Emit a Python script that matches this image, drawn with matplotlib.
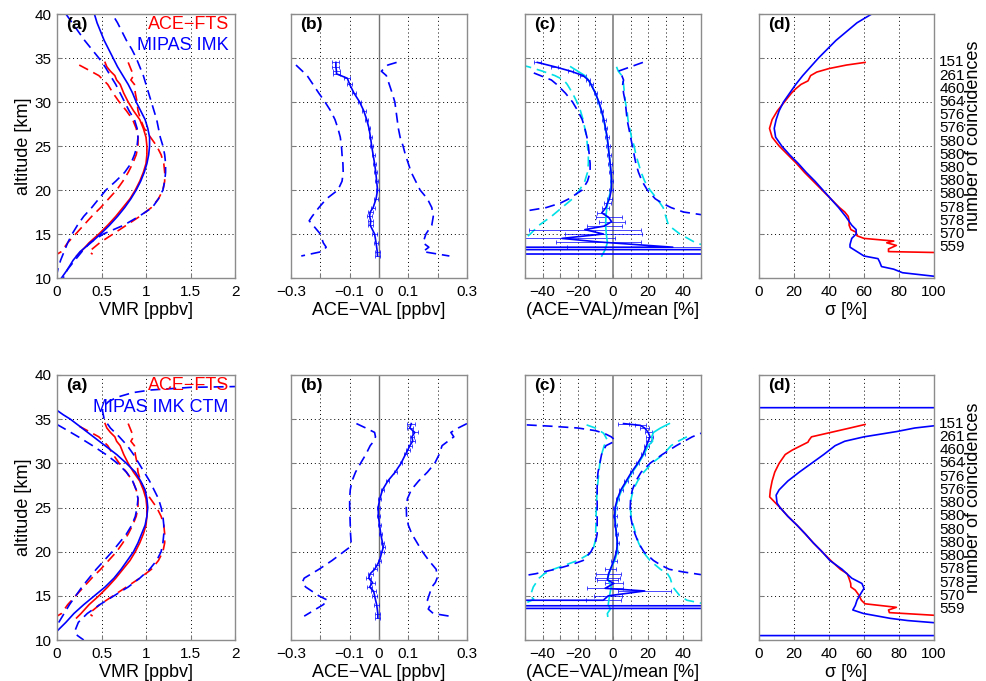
import matplotlib.pyplot as plt

plt.rcParams['font.family'] = ['Liberation Sans', 'DejaVu Sans']

# ---------------- panel (a): VMR profiles [ppbv] ----------------
# ACE-FTS mean and mean -/+ std (same in both rows)
ace_alt = [34.5, 34.0, 33.5, 33.0, 32.5, 32.0, 31.0, 30.0, 29.0, 28.0, 27.0, 26.0, 25.0,
           24.0, 23.0, 22.0, 21.0, 20.0, 19.0, 18.0, 17.0, 16.0, 15.0, 14.0, 13.0, 12.5]
ace_vmr = [0.54, 0.56, 0.60, 0.65, 0.67, 0.71, 0.75, 0.80, 0.86, 0.93, 0.97, 1.00, 1.01,
           1.01, 1.00, 0.97, 0.93, 0.88, 0.82, 0.74, 0.66, 0.57, 0.47, 0.36, 0.27, 0.22]
ace_lo_alt = [34.2, 33.5, 33.0, 32.0, 31.0, 30.0, 29.0, 28.0, 27.0, 26.0, 25.0, 24.0,
              23.0, 22.0, 21.0, 20.0, 19.0, 18.0, 17.0, 16.0, 15.0, 14.0, 13.0, 12.7]
ace_lo_vmr = [0.25, 0.38, 0.47, 0.57, 0.63, 0.70, 0.78, 0.85, 0.89, 0.91, 0.91, 0.89,
              0.85, 0.80, 0.74, 0.67, 0.58, 0.49, 0.39, 0.30, 0.21, 0.12, 0.05, 0.0]
ace_hi_alt = [34.5, 34.0, 33.0, 32.5, 32.0, 31.0, 30.0, 29.0, 28.0, 27.0, 26.0, 25.0, 24.0,
              23.0, 22.0, 21.0, 20.0, 19.0, 18.0, 17.0, 16.0, 15.0, 14.0, 13.5, 13.0, 12.7]
ace_hi_vmr = [0.80, 0.82, 0.86, 0.83, 0.87, 0.88, 0.90, 0.91, 0.94, 0.98, 1.05, 1.12, 1.17,
              1.20, 1.21, 1.21, 1.19, 1.14, 1.06, 0.93, 0.78, 0.63, 0.48, 0.42, 0.36, 0.40]

# MIPAS IMK (top row)
imk_alt = [40, 39, 38, 37, 36, 35, 34, 33, 32, 31, 30, 29, 28, 27, 26, 25,
           24, 23, 22, 21, 20, 19, 18, 17, 16, 15, 14, 13, 12, 11, 10]
imk_vmr = [0.42, 0.45, 0.49, 0.53, 0.58, 0.63, 0.68, 0.74, 0.80, 0.85, 0.89, 0.94, 0.99,
           1.02, 1.04, 1.04, 1.03, 1.01, 0.98, 0.94, 0.89, 0.83, 0.76, 0.68, 0.59, 0.49,
           0.38, 0.26, 0.18, 0.12, 0.05]
imk_lo_alt = [40, 39, 38, 37, 36, 35, 34, 33, 32, 31, 30, 29, 28, 27, 26, 25,
              24, 23, 22, 21, 20, 19, 18, 17, 16, 15, 14, 13, 12, 11, 10.5]
imk_lo_vmr = [0.10, 0.17, 0.24, 0.31, 0.39, 0.47, 0.54, 0.60, 0.66, 0.71, 0.76, 0.81, 0.87,
              0.90, 0.91, 0.90, 0.87, 0.83, 0.76, 0.66, 0.55, 0.47, 0.39, 0.30, 0.23, 0.17,
              0.12, 0.08, 0.04, 0.01, 0.0]
imk_hi_alt = [39.5, 39, 38, 37, 36, 35, 34, 33, 32, 31, 30, 29, 28, 27, 26, 25,
              24, 23, 22, 21, 20, 19, 18, 17, 16, 15, 14, 13, 12, 11, 10]
imk_hi_vmr = [0.65, 0.68, 0.73, 0.78, 0.84, 0.89, 0.93, 0.97, 1.00, 1.03, 1.06, 1.09, 1.12,
              1.14, 1.16, 1.19, 1.21, 1.22, 1.22, 1.21, 1.19, 1.14, 1.07, 0.92, 0.75, 0.52,
              0.37, 0.28, 0.20, 0.12, 0.07]

# MIPAS IMK CTM (bottom row)
ctm_alt = [36.0, 35.5, 35.0, 34.0, 33.0, 32.0, 31.0, 30.0, 29.0, 28.0, 27.0, 26.0, 25.0,
           24.0, 23.0, 22.0, 21.0, 20.0, 19.0, 18.0, 17.0, 16.0, 15.0, 14.0, 13.0, 12.0, 11.0]
ctm_vmr = [0.0, 0.07, 0.15, 0.28, 0.41, 0.54, 0.67, 0.78, 0.88, 0.94, 0.99, 1.01, 1.02,
           1.01, 0.99, 0.95, 0.91, 0.86, 0.79, 0.72, 0.64, 0.54, 0.42, 0.30, 0.19, 0.10, 0.0]
ctm_lo_alt = [34.4, 34.0, 33.0, 32.0, 31.0, 30.0, 29.0, 28.0, 27.0, 26.0, 25.0, 24.0, 23.0,
              22.0, 21.0, 20.0, 19.0, 18.0, 17.0, 16.0, 15.0, 14.0, 13.0, 12.0, 11.5]
ctm_lo_vmr = [0.0, 0.07, 0.24, 0.40, 0.55, 0.68, 0.78, 0.85, 0.89, 0.91, 0.90, 0.88, 0.84,
              0.78, 0.70, 0.62, 0.53, 0.44, 0.36, 0.28, 0.21, 0.14, 0.08, 0.02, 0.0]
ctm_hi_alt = [38.7, 38.6, 38.3, 38.0, 37.5, 37.0, 36.5, 36.0, 35.0, 34.0, 33.0, 32.0, 31.0,
              30.0, 29.0, 28.0, 27.0, 26.0, 25.0, 24.0, 23.0, 22.0, 21.0, 20.0, 19.0, 18.0,
              17.0, 16.0, 15.0, 14.0, 13.0, 12.0, 11.0, 10.5, 10.0]
ctm_hi_vmr = [2.05, 1.50, 1.05, 0.85, 0.68, 0.58, 0.53, 0.51, 0.53, 0.60, 0.70, 0.79, 0.86,
              0.92, 0.98, 1.04, 1.09, 1.14, 1.17, 1.19, 1.20, 1.20, 1.19, 1.17, 1.12, 1.04,
              0.93, 0.80, 0.64, 0.48, 0.34, 0.24, 0.20, 0.23, 0.30]

# ---------------- panel (b): ACE-VAL [ppbv] ----------------
b1_alt = [34.5, 34.0, 33.5, 33.2, 32.7, 32.0, 31.0, 30.0, 29.0, 28.0, 27.0, 26.0, 25.0, 24.0,
          23.0, 22.0, 21.0, 20.0, 19.0, 18.0, 17.5, 17.0, 16.5, 16.0, 15.0, 14.0, 13.0, 12.5]
b1_bias = [-0.147, -0.147, -0.145, -0.145, -0.108, -0.100, -0.085, -0.066, -0.052, -0.042,
           -0.034, -0.029, -0.025, -0.020, -0.015, -0.011, -0.008, -0.005, -0.010, -0.020,
           -0.030, -0.032, -0.028, -0.030, -0.015, -0.010, -0.006, -0.005]
b1_err = [0.012, 0.012, 0.012, 0.012, 0.010, 0.008, 0.007, 0.006, 0.006, 0.005, 0.005, 0.005,
          0.005, 0.005, 0.005, 0.005, 0.005, 0.006, 0.006, 0.007, 0.008, 0.008, 0.008, 0.008,
          0.008, 0.008, 0.008, 0.009]
b1_lo_alt = [34.2, 33.0, 32.0, 31.0, 30.0, 29.0, 28.0, 27.0, 26.0, 25.0, 24.0, 23.0, 22.0,
             21.0, 20.0, 19.0, 18.0, 17.0, 16.5, 16.0, 15.0, 14.0, 13.5, 13.0, 12.5]
b1_lo = [-0.283, -0.245, -0.225, -0.205, -0.184, -0.165, -0.150, -0.140, -0.132, -0.128,
         -0.126, -0.123, -0.122, -0.126, -0.140, -0.179, -0.205, -0.228, -0.238, -0.225,
         -0.200, -0.190, -0.180, -0.195, -0.265]
b1_hi_alt = [34.5, 34.2, 33.5, 33.0, 32.0, 31.0, 30.0, 29.0, 28.0, 27.0, 26.0, 25.0, 24.0,
             23.0, 22.0, 21.0, 20.0, 19.0, 18.0, 17.0, 16.0, 15.0, 14.0, 13.5, 13.0, 12.5]
b1_hi = [0.060, 0.030, 0.008, 0.025, 0.035, 0.045, 0.054, 0.058, 0.062, 0.066, 0.072, 0.082,
         0.090, 0.100, 0.110, 0.125, 0.140, 0.165, 0.180, 0.185, 0.180, 0.160, 0.150, 0.170,
         0.150, 0.240]

b2_alt = [34.5, 34.0, 33.5, 33.0, 32.5, 32.0, 31.5, 31.0, 30.0, 29.0, 28.0, 27.0, 26.0, 25.0,
          24.0, 23.0, 22.0, 21.0, 20.5, 20.0, 19.0, 18.5, 18.0, 17.5, 17.0, 16.5, 16.0, 15.5,
          15.0, 14.0, 13.0, 12.5]
b2_bias = [0.110, 0.105, 0.122, 0.112, 0.115, 0.105, 0.098, 0.090, 0.075, 0.055, 0.030, 0.012,
           0.003, -0.003, -0.002, 0.002, 0.006, 0.012, 0.015, 0.010, 0.002, -0.006, -0.015,
           -0.030, -0.035, -0.022, -0.032, -0.018, -0.015, -0.008, -0.004, -0.004]
b2_err = [0.014, 0.010, 0.010, 0.008, 0.008, 0.007, 0.007, 0.006, 0.005, 0.005, 0.005, 0.005,
          0.005, 0.005, 0.005, 0.005, 0.005, 0.005, 0.005, 0.006, 0.006, 0.007, 0.007, 0.008,
          0.008, 0.008, 0.008, 0.008, 0.008, 0.008, 0.008, 0.009]
b2_lo_alt = [34.5, 34.0, 33.5, 33.0, 32.5, 32.0, 31.0, 30.0, 29.0, 28.0, 27.0, 26.0, 25.0, 24.0,
             23.0, 22.0, 21.0, 20.5, 20.0, 19.0, 18.0, 17.0, 16.5, 16.0, 15.0, 14.5, 14.0,
             13.5, 13.0, 12.7]
b2_lo = [-0.077, -0.045, -0.015, -0.012, -0.018, -0.030, -0.045, -0.063, -0.080, -0.092,
         -0.098, -0.100, -0.100, -0.099, -0.098, -0.097, -0.095, -0.100, -0.120, -0.160,
         -0.205, -0.255, -0.262, -0.250, -0.205, -0.175, -0.190, -0.215, -0.240, -0.255]
b2_hi_alt = [34.5, 34.0, 33.5, 33.0, 32.5, 32.0, 31.0, 30.0, 29.0, 28.0, 27.0, 26.0, 25.0, 24.0,
             23.0, 22.0, 21.0, 20.0, 19.0, 18.0, 17.0, 16.5, 16.0, 15.0, 14.5, 14.0, 13.5,
             13.0, 12.7]
b2_hi = [0.300, 0.270, 0.245, 0.255, 0.235, 0.215, 0.205, 0.190, 0.165, 0.135, 0.110, 0.097,
         0.093, 0.094, 0.100, 0.112, 0.130, 0.148, 0.170, 0.195, 0.198, 0.192, 0.180, 0.170,
         0.165, 0.175, 0.168, 0.185, 0.240]

# ---------------- panel (c): (ACE-VAL)/mean [%] ----------------
c1_alt = [34.5, 34.0, 33.5, 33.0, 32.5, 32.0, 31.0, 30.0, 29.0, 28.0, 27.0, 26.0, 25.0, 24.0,
          23.0, 22.0, 21.0, 20.0, 19.0, 18.5, 18.0, 17.4, 16.9, 16.4, 15.9, 15.5, 15.0, 14.5,
          14.1, 13.5, 13.4, 13.25, 13.2, 12.75, 12.7]
c1_bias = [-43, -33, -24, -17, -14, -12.5, -10, -8, -6.5, -5.2, -4.2, -3.3, -2.7, -2.2, -1.6,
           -1.1, -0.8, -1.0, -2.0, -3.2, -4.0, -6.4, -2.5, -0.8, -5, -16, -5.5, -29, -8.3, 34,
           -5000, -5000, 5000, 5000, -5000]
c1_err = [2, 2, 1.5, 1.5, 1.2, 1, 1, 1, 1, 1, 1, 1, 1, 1, 1, 1, 1, 1, 1.5, 2, 2, 2.5, 7.4,
          7.4, 10, 32, 22, 30, 24, 60, 0, 0, 0, 0, 0]
c1c_alt = [34.0, 33.5, 33.0, 32.5, 32.0, 31.0, 30.0, 29.0, 28.0, 27.0, 26.0, 25.0, 24.0, 23.0,
           22.0, 21.0, 20.0, 19.0, 18.0, 17.0, 16.0, 15.0, 14.0, 13.2, 12.5]
c1c_bias = [-24, -20, -16, -14, -12.5, -10, -8.2, -6.6, -5.3, -4.3, -3.4, -2.8, -2.2, -1.7,
            -1.2, -0.9, -1.2, -2.5, -3.5, -4.0, -4.2, -3.8, -3.2, -4.5, -6.4]
c1_lo_alt = [33.3, 32.5, 32.0, 31.0, 30.0, 29.0, 28.0, 27.0, 26.0, 25.0, 24.0, 23.0, 22.0,
             21.0, 20.0, 19.0, 18.5, 18.0, 17.6, 17.3]
c1_lo = [-45, -35, -32, -27, -23, -20, -17.5, -16, -14.8, -14, -13.5, -13, -13, -14.5, -17.5,
         -25, -30, -38, -50, -60]
c1c_lo_alt = [34.2, 34.0, 33.5, 33.0, 32.5, 32.0, 31.0, 30.0, 29.0, 28.0, 27.0, 26.0, 25.0,
              24.0, 23.0, 22.0, 21.0, 20.0, 19.0, 18.0, 17.0, 16.0, 15.0, 14.5, 14.0]
c1c_lo = [-52, -48, -40, -33, -28, -26, -23, -20.5, -18.5, -17, -16, -15, -14.5, -14, -14,
          -14.5, -16, -19, -23, -29, -35, -42, -47, -50, -53]
c1_hi_alt = [34.5, 34.0, 33.5, 33.0, 32.5, 32.0, 31.0, 30.0, 29.0, 28.0, 27.0, 26.0, 25.0,
             24.0, 23.0, 22.0, 21.0, 20.0, 19.0, 18.5, 18.0, 17.5, 17.2, 17.0]
c1_hi = [17, 10, 3, 5, 6, 5.5, 6, 7, 7.5, 8, 9, 10, 11, 12, 13, 14.5, 16.5, 19.5, 24, 28, 33,
         40, 50, 60]
c1c_hi_alt = [34.0, 33.5, 33.0, 32.0, 31.0, 30.0, 29.0, 28.0, 27.0, 26.0, 25.0, 24.0, 23.0,
              22.0, 21.0, 20.0, 19.0, 18.0, 17.0, 16.0, 15.0, 14.0, 13.7]
c1c_hi = [2, 3, 5, 6, 6.5, 7, 8, 8.5, 9.5, 10.5, 12, 13, 14.5, 16, 18, 21, 25, 28.5, 30,
          31.5, 38, 47, 52]

c2_alt = [34.5, 34.3, 34.0, 33.5, 33.0, 32.5, 32.0, 31.0, 30.0, 29.0, 28.0, 27.0, 26.0, 25.0,
          24.0, 23.0, 22.0, 21.0, 20.0, 19.0, 18.0, 17.5, 17.0, 16.8, 16.4, 15.85, 15.55, 15.0,
          14.5, 14.4, 13.9, 13.85, 13.6, 13.55]
c2_bias = [6, 15.5, 18, 20, 21, 20, 19, 17, 14, 10.5, 7.5, 4.5, 2.5, 1.2, 1.0, 1.3, 2.0, 2.5,
           2.0, 0.5, -1.5, -2.5, -3.0, -3.2, 0.5, -4.5, 18, -2.7, -5.5, -5000, -5000, 5000,
           5000, -5000]
c2_err = [3, 3, 2.5, 2, 2, 1.5, 1.5, 1.2, 1, 1, 1, 1, 1, 1, 1, 1, 1, 1, 1, 1.5, 3, 7, 7, 6,
          5, 10, 15, 8, 10, 0, 0, 0, 0, 0]
c2c_alt = [34.5, 34.0, 33.5, 33.0, 32.5, 32.0, 31.0, 30.0, 29.0, 28.0, 27.0, 26.0, 25.0, 24.0,
           23.0, 22.0, 21.0, 20.0, 19.0, 18.0, 17.0, 16.0, 15.0, 14.0, 13.5, 13.0, 12.7]
c2c_bias = [32, 27, 23, 22, 22.5, 20, 17.5, 14.5, 11, 8, 5, 3, 1.5, 1.2, 1.5, 2, 2.5, 2.5, 1,
            -1.5, -3, -1, -2, -2.7, -1.5, -3.2, -3.0]
c2_lo_alt = [34.35, 34.2, 34.0, 33.7, 33.4, 33.0, 32.6, 32.4, 32.0, 31.0, 30.0, 29.0, 28.0,
             27.0, 25.0, 23.0, 22.0, 21.0, 20.0, 19.0, 18.5, 18.0, 17.5, 17.3, 17.0]
c2_lo = [-49, -35, -20, -10, -5, -1, 1.3, 0, -4, -6.5, -7.5, -8.5, -9, -9, -9, -9, -9, -10,
         -12.5, -17, -24, -33, -44, -50, -58]
c2c_lo_alt = [34.35, 34.0, 33.4, 32.7, 32.0, 31.0, 30.0, 29.0, 28.0, 27.0, 25.0, 23.0, 21.3,
              20.5, 19.8, 19.0, 18.5, 18.0, 17.5, 17.0, 16.0, 15.0, 14.6, 14.15]
c2c_lo = [-15, -10, -5.3, -3.4, -5, -6.5, -7.5, -8, -8.5, -9, -9.5, -9.7, -10, -11, -13, -20,
          -27, -34, -39, -42, -45.3, -47, -45, -50]
c2_hi_alt = [33.6, 33.4, 33.0, 32.0, 31.0, 30.0, 29.0, 28.0, 27.0, 26.0, 25.0, 24.0, 23.0,
             22.0, 21.0, 20.0, 19.0, 18.5, 18.0, 17.7, 17.4]
c2_hi = [55, 50, 45, 36, 28, 21, 16, 13, 11, 10, 9.8, 10, 11, 12.5, 14.5, 17.5, 23, 27, 32,
         40, 50]
c2c_hi_alt = [33.0, 32.5, 32.0, 31.0, 30.0, 29.0, 28.0, 27.0, 26.0, 25.0, 24.0, 23.0, 22.0,
              21.0, 20.0, 19.0, 18.0, 17.5, 17.0, 16.0, 15.0, 14.5, 14.2, 14.0]
c2c_hi = [42, 37, 33, 28.5, 22, 17.5, 14, 11.5, 10.3, 9.8, 10.3, 11.5, 13, 14.5, 17, 21, 27,
          31, 32.5, 34, 38, 42, 49.4, 53]

# ---------------- panel (d): sigma [%] ----------------
d1_ace_alt = [34.5, 34.2, 33.8, 33.4, 33.0, 32.6, 32.4, 32.0, 31.5, 31.0, 30.0, 29.0, 28.0,
              27.0, 26.0, 25.0, 24.0, 23.0, 22.0, 21.0, 20.0, 19.0, 18.0, 17.5, 17.0, 16.5,
              16.0, 15.5, 15.2, 14.8, 14.5, 14.2, 14.0, 13.7, 13.3, 13.0, 12.9]
d1_ace = [60.6, 50, 40, 33, 29.5, 28.5, 28, 24, 21, 18.5, 14.5, 10.5, 7.5, 6.0, 7.5, 11.5,
          16.5, 21.5, 26, 31, 36, 41, 46, 49, 51, 51.5, 51.5, 52.5, 55.5, 56, 60, 77, 73,
          78.5, 74, 74, 100]
d1_imk_alt = [40, 39, 38, 37, 36, 35, 34, 33, 32, 31, 30, 29, 28, 27, 26, 25, 24, 23, 22,
              21, 20, 19, 18, 17, 16, 15.5, 15.0, 14.5, 13.8, 13.5, 13.0, 12.5, 12.2, 11.8,
              11.3, 11.0, 10.6, 10.2]
d1_imk = [64.4, 56, 50, 44, 39, 34, 29.5, 25, 21, 17.5, 14, 11.5, 9.8, 8.7, 9.5, 13, 17.5,
          22.5, 27, 32, 36.5, 41, 45.5, 49.5, 53, 55.5, 55.5, 53, 52, 52, 56, 60, 68, 69, 70,
          77, 82, 100]
d2_ace_alt = [34.4, 34.0, 33.5, 33.0, 32.6, 32.4, 32.0, 31.5, 31.0, 30.0, 29.0, 28.0, 27.0,
              26.2, 25.5, 25.0, 24.0, 23.0, 22.0, 21.0, 20.0, 19.0, 18.0, 17.5, 17.0, 16.4,
              16.0, 15.65, 15.1, 14.5, 14.1, 13.7, 13.4, 13.1, 12.8]
d2_ace = [60.6, 52, 41, 30, 28.5, 28, 24, 19, 15, 11.5, 9, 7.5, 6.5, 6.1, 9.5, 12, 16.5,
          21.7, 26.5, 31, 36, 41, 46.5, 50.4, 51.4, 52.4, 52.5, 55, 57, 58.5, 60.6, 78.5, 74,
          74.5, 100]
d2_ctm_alt = [36.3, 36.3, 34.25, 34.0, 33.6, 33.0, 32.5, 32.0, 31.0, 30.0, 29.0, 28.0, 27.0,
              26.4, 25.5, 25.0, 24.0, 23.0, 22.0, 21.0, 20.0, 19.0, 18.0, 17.0, 16.4, 15.85,
              15.2, 14.5, 13.9, 13.4, 13.0, 12.45, 12.2, 11.96, 10.5, 10.5]
d2_ctm = [-5000, 5000, 100, 89, 78.7, 60, 49, 43.5, 37, 30, 23, 16.5, 11.5, 9.8, 10.3, 12,
          16.5, 21.7, 26.5, 31, 36, 40.5, 47.5, 53, 58.8, 60, 58, 56, 55, 53.6, 59.7, 75, 85,
          100, 5000, -5000]

# number of coincidences (right side labels)
n_alt = [34.5, 33, 31.5, 30, 28.5, 27, 25.5, 24, 22.5, 21, 19.5, 18, 16.5, 15, 13.5]
n_coinc = [151, 261, 460, 564, 576, 576, 580, 580, 580, 580, 580, 578, 578, 570, 559]

# ---------------- figure ----------------
W, H = 986, 681
fig = plt.figure(figsize=(W / 100, H / 100), dpi=100)

BLUE = (0, 0, 1)
RED = (1, 0, 0)
CYAN = (0.0, 0.88, 0.9)
DASH = (0, (6, 3.5))
LW = 1.2


def make_axes(left, right, top, bottom):
    return fig.add_axes([left / W, 1 - bottom / H, (right - left) / W, (bottom - top) / H])


def style(ax, xlim, xticks, xticklabels, xgrid, xlabel, letter, first):
    ax.set_xlim(xlim)
    ax.set_ylim(10, 40)
    ax.set_xticks(xticks)
    ax.set_xticklabels(xticklabels)
    ax.set_yticks(range(10, 41, 5))
    if first:
        ax.set_ylabel('altitude [km]', fontsize=13, labelpad=2)
    else:
        ax.set_yticklabels([])
    for gx in xgrid:
        ax.axvline(gx, color='k', lw=0.7, ls=(0, (1, 3)), zorder=0)
    for gy in range(15, 40, 5):
        ax.axhline(gy, color='k', lw=0.7, ls=(0, (1, 3)), zorder=0)
    ax.tick_params(labelsize=11, direction='in', length=3, color='0.5', pad=4)
    ax.tick_params(axis='x', pad=5)
    for s in ax.spines.values():
        s.set_color('0.55')
        s.set_linewidth(1.0)
    ax.set_xlabel(xlabel, fontsize=13, labelpad=2)
    ax.text(0.05, 0.962, letter, transform=ax.transAxes, fontsize=12.5,
            fontweight='bold', ha='left', va='center')


rows = [(14, 278), (375, 640)]
cols = [(57, 235), (291, 467), (525, 701), (759, 934)]

for r, (top, bottom) in enumerate(rows):
    axa, axb, axc, axd = [make_axes(c0, c1, top, bottom) for c0, c1 in cols]

    # (a)
    if r == 0:
        val, lo_a, lo_v, hi_a, hi_v = imk_vmr, imk_lo_alt, imk_lo_vmr, imk_hi_alt, imk_hi_vmr
        va = imk_alt
        name = 'MIPAS IMK'
    else:
        val, lo_a, lo_v, hi_a, hi_v = ctm_vmr, ctm_lo_alt, ctm_lo_vmr, ctm_hi_alt, ctm_hi_vmr
        va = ctm_alt
        name = 'MIPAS IMK CTM'
    axa.plot(ace_vmr, ace_alt, color=RED, lw=LW)
    axa.plot(ace_lo_vmr, ace_lo_alt, color=RED, lw=LW, ls=DASH)
    axa.plot(ace_hi_vmr, ace_hi_alt, color=RED, lw=LW, ls=DASH)
    axa.plot(val, va, color=BLUE, lw=LW)
    axa.plot(lo_v, lo_a, color=BLUE, lw=LW, ls=DASH)
    axa.plot(hi_v, hi_a, color=BLUE, lw=LW, ls=DASH)
    axa.text(0.965, 0.962, 'ACE\u2212FTS', color=RED, transform=axa.transAxes,
             fontsize=13, ha='right', va='center')
    axa.text(0.965, 0.879, name, color=BLUE, transform=axa.transAxes,
             fontsize=13, ha='right', va='center')
    style(axa, (0, 2), [0, 0.5, 1, 1.5, 2], ['0', '0.5', '1', '1.5', '2'],
          [0.5, 1, 1.5], 'VMR [ppbv]', '(a)', True)

    # (b)
    if r == 0:
        ba, bb, be, bla, bl, bha, bh = b1_alt, b1_bias, b1_err, b1_lo_alt, b1_lo, b1_hi_alt, b1_hi
    else:
        ba, bb, be, bla, bl, bha, bh = b2_alt, b2_bias, b2_err, b2_lo_alt, b2_lo, b2_hi_alt, b2_hi
    axb.axvline(0, color='0.45', lw=1.0, zorder=1)
    axb.errorbar(bb, ba, xerr=be, color=BLUE, lw=LW, elinewidth=0.5, capsize=1.2,
                 capthick=0.5)
    axb.plot(bl, bla, color=BLUE, lw=LW, ls=DASH)
    axb.plot(bh, bha, color=BLUE, lw=LW, ls=DASH)
    style(axb, (-0.3, 0.3), [-0.3, -0.2, -0.1, 0, 0.1, 0.2, 0.3],
          ['\u22120.3', '', '\u22120.1', '0', '0.1', '', '0.3'],
          [-0.2, -0.1, 0.1, 0.2], 'ACE\u2212VAL [ppbv]', '(b)', False)

    # (c)
    if r == 0:
        cset = (c1_alt, c1_bias, c1_err, c1c_alt, c1c_bias, c1_lo_alt, c1_lo, c1c_lo_alt,
                c1c_lo, c1_hi_alt, c1_hi, c1c_hi_alt, c1c_hi)
    else:
        cset = (c2_alt, c2_bias, c2_err, c2c_alt, c2c_bias, c2_lo_alt, c2_lo, c2c_lo_alt,
                c2c_lo, c2_hi_alt, c2_hi, c2c_hi_alt, c2c_hi)
    (ca, cb, ce, cca, ccb, cla, cl, ccla, ccl, cha, ch, ccha, cch) = cset
    axc.axvline(0, color='0.5', lw=1.2, zorder=1)
    axc.plot(ccl, ccla, color=CYAN, lw=LW, ls=DASH)
    axc.plot(cch, ccha, color=CYAN, lw=LW, ls=DASH)
    axc.plot(cl, cla, color=BLUE, lw=LW, ls=DASH)
    axc.plot(ch, cha, color=BLUE, lw=LW, ls=DASH)
    axc.errorbar(cb, ca, xerr=ce, color=BLUE, lw=LW, elinewidth=0.5, capsize=1.2,
                 capthick=0.5)
    axc.plot(ccb, cca, color=CYAN, lw=LW)
    style(axc, (-50, 50), list(range(-50, 51, 10)),
          ['', '\u221240', '', '\u221220', '', '0', '', '20', '', '40', ''],
          [-40, -30, -20, -10, 10, 20, 30, 40], '(ACE\u2212VAL)/mean [%]', '(c)', False)

    # (d)
    if r == 0:
        axd.plot(d1_ace, d1_ace_alt, color=RED, lw=LW)
        axd.plot(d1_imk, d1_imk_alt, color=BLUE, lw=LW)
    else:
        axd.plot(d2_ace, d2_ace_alt, color=RED, lw=LW)
        axd.plot(d2_ctm, d2_ctm_alt, color=BLUE, lw=LW)
    style(axd, (0, 100), [0, 20, 40, 60, 80, 100], ['0', '20', '40', '60', '80', '100'],
          [20, 40, 60, 80], '\u03c3 [%]', '(d)', False)
    for a, n in zip(n_alt, n_coinc):
        axd.text(1.03, a, str(n), transform=axd.get_yaxis_transform(), fontsize=11,
                 ha='left', va='center')
    fig.text(974 / W, 1 - ((top + bottom) / 2 - 10) / H, 'number of coincidences',
             rotation=90, fontsize=13, ha='center', va='center')

fig.savefig('out.png', dpi=100)
